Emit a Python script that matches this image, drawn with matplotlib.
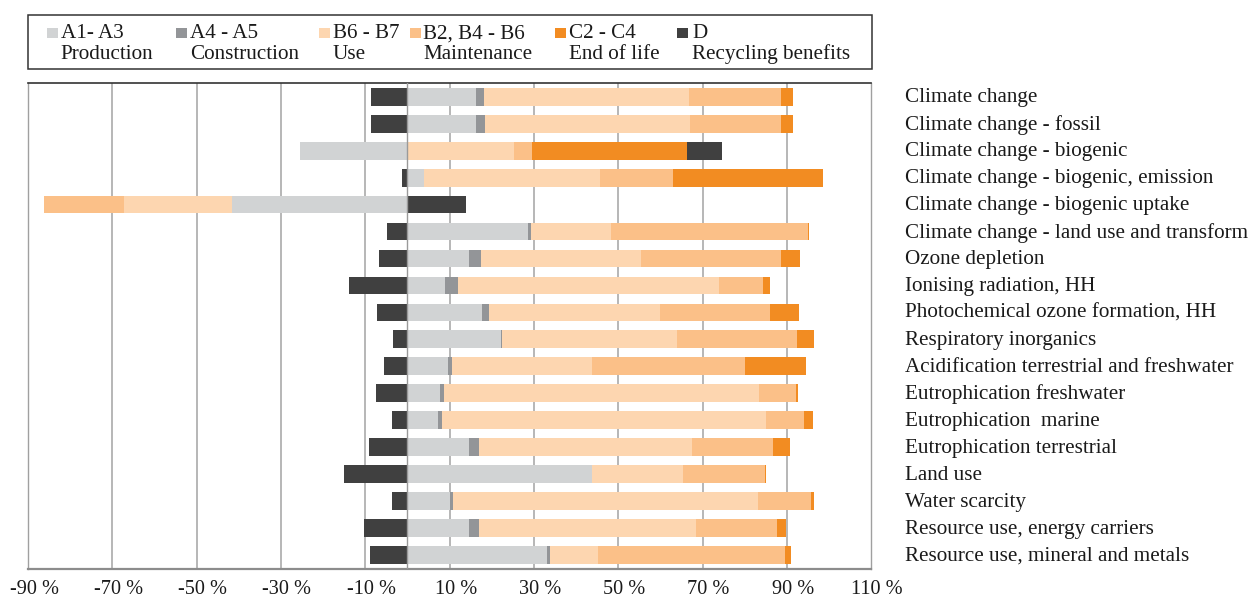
import numpy as np
import matplotlib
matplotlib.use("Agg")
import matplotlib.pyplot as plt
from matplotlib.patches import Rectangle
from matplotlib.transforms import ScaledTranslation

plt.rcParams['font.family'] = ['Liberation Serif', 'DejaVu Serif']

categories = [
    "Climate change",
    "Climate change - fossil",
    "Climate change - biogenic",
    "Climate change - biogenic, emission",
    "Climate change - biogenic uptake",
    "Climate change - land use and transform",
    "Ozone depletion",
    "Ionising radiation, HH",
    "Photochemical ozone formation, HH",
    "Respiratory inorganics",
    "Acidification terrestrial and freshwater",
    "Eutrophication freshwater",
    "Eutrophication  marine",
    "Eutrophication terrestrial",
    "Land use",
    "Water scarcity",
    "Resource use, energy carriers",
    "Resource use, mineral and metals",
]

production = [16.25, 16.25, -25.4, 3.8, -41.6, 28.7, 14.6, 8.9, 17.6, 22.1,
              9.5, 7.6, 7.2, 14.7, 43.7, 10.1, 14.6, 33.1]
construction = [2.0, 2.05, 0.0, 0.0, 0.0, 0.6, 2.85, 3.1, 1.75, 0.4,
                1.1, 1.0, 0.95, 2.2, 0.15, 0.6, 2.4, 0.7]
use = [48.5, 48.6, 25.3, 41.9, -25.6, 19.0, 37.9, 61.8, 40.5, 41.4,
       33.1, 74.7, 76.8, 50.5, 21.5, 72.4, 51.5, 11.4]
maintenance = [21.8, 21.8, 4.3, 17.2, -19.0, 46.7, 33.2, 10.5, 26.2, 28.4,
               36.3, 8.8, 9.0, 19.4, 19.5, 12.7, 19.2, 44.3]
end_of_life = [2.85, 2.7, 36.8, 35.6, 0.0, 0.25, 4.5, 1.75, 6.7, 4.1,
               14.4, 0.4, 2.2, 4.0, 0.15, 0.5, 2.1, 1.5]
recycling = [-8.6, -8.6, 8.2, -1.4, 13.8, -4.8, -6.85, -13.95, -7.2, -3.5,
             -5.6, -7.4, -3.7, -9.05, -15.0, -3.7, -10.2, -8.95]

series_codes = ["A1- A3", "A4 - A5", "B6 - B7", "B2, B4 - B6", "C2 - C4", "D"]
series_names = ["Production", "Construction", "Use", "Maintenance",
                "End of life", "Recycling benefits"]
colors = ["#D1D3D4", "#939598", "#FDD6B0", "#FBC088", "#F28C22", "#404040"]

x_ticks = [-90, -70, -50, -30, -10, 10, 30, 50, 70, 90, 110]
x_tick_labels = [f"{t} %" for t in x_ticks]

W, H = 1252, 599
fig = plt.figure(figsize=(W / 100, H / 100), dpi=100)

left_px, right_px, top_px, bottom_px = 28, 871.3, 83.3, 568.5
ax = fig.add_axes([left_px / W, 1 - bottom_px / H,
                   (right_px - left_px) / W, (bottom_px - top_px) / H])

text_color = "#1a1a1a"
series = [production, construction, use, maintenance, end_of_life, recycling]
y = np.arange(len(categories))
pos_base = np.zeros(len(categories))
neg_base = np.zeros(len(categories))
for vals, col in zip(series, colors):
    v = np.asarray(vals, dtype=float)
    left = np.where(v >= 0, pos_base, neg_base)
    ax.barh(y, v, left=left, height=0.66, color=col, linewidth=0, zorder=3)
    pos_base = pos_base + np.where(v > 0, v, 0)
    neg_base = neg_base + np.where(v < 0, v, 0)

ax.set_xlim(-90, 110)
ax.set_ylim(len(categories) - 0.5, -0.5)

for g in x_ticks[1:-1]:
    ax.axvline(g, color="#A3A3A3", lw=1.1, zorder=1)
ax.axvline(0, color="#9A9A9A", lw=1.0, zorder=4)

ax.set_xticks(x_ticks)
ax.set_xticklabels(x_tick_labels, fontsize=14.6, color=text_color)
ax.tick_params(axis="x", length=0, pad=8)
offset = ScaledTranslation(6 / 100, 0, fig.dpi_scale_trans)
for lab in ax.get_xticklabels():
    lab.set_transform(lab.get_transform() + offset)

ax.set_yticks(y)
ax.set_yticklabels(categories, fontsize=15.2, color=text_color)
ax.yaxis.tick_right()
ax.tick_params(axis="y", length=0, pad=24.3)
lift = ScaledTranslation(0, 1.5 / 100, fig.dpi_scale_trans)
for lab in ax.get_yticklabels():
    lab.set_transform(lab.get_transform() + lift)

ax.spines["top"].set_color("#333333")
ax.spines["top"].set_linewidth(1.2)
ax.spines["right"].set_color("#A0A0A0")
ax.spines["right"].set_linewidth(1.0)
ax.spines["left"].set_color("#A0A0A0")
ax.spines["left"].set_linewidth(1.0)
ax.spines["bottom"].set_color("#8C8C8C")
ax.spines["bottom"].set_linewidth(1.6)

# Legend box drawn in figure coordinates
def fx(px):
    return px / W

def fy(py):
    return 1 - py / H

fig.patches.append(Rectangle((fx(28), fy(69.3)), fx(871.7) - fx(28),
                             fy(15) - fy(69.3), transform=fig.transFigure,
                             fill=False, edgecolor="#333333", lw=1.1))

marker_x = [47.3, 176, 319.3, 410, 555, 677.3]
label_x = [60.7, 190, 333, 423, 569.3, 692]
sq = 10.6
for mx, lx, code, name, col in zip(marker_x, label_x, series_codes,
                                   series_names, colors):
    fig.patches.append(Rectangle((fx(mx), fy(27.7 + sq)), sq / W, sq / H,
                                 transform=fig.transFigure, facecolor=col,
                                 edgecolor="none"))
    fig.text(fx(lx), fy(38.3), code, fontsize=15.2, color=text_color,
             ha="left", va="baseline")
    fig.text(fx(lx), fy(59.3), name, fontsize=15.2, color=text_color,
             ha="left", va="baseline")

fig.savefig("out.png", dpi=100)
